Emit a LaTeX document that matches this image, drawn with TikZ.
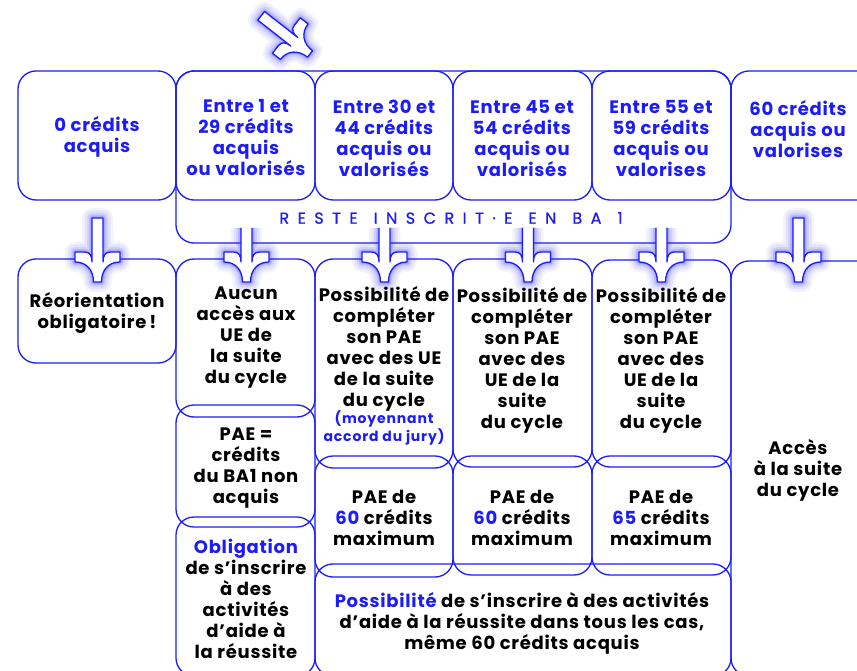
\documentclass[tikz,border=0pt]{standalone}
\usepackage{fontspec}
\setmainfont{Poppins}
\definecolor{bl}{RGB}{28,28,250}
\newcommand\arwopen[1]{(-5.5,-#1) -- (-5.5,-20) .. controls (-5.5,-26) and (-7.5,-30) .. (-13,-30) -- (-22.5,-30) -- (-22.5,-20) .. controls (-11,-20) and (-4,-12) .. (-4,0) -- (4,0) .. controls (4,-12) and (11,-20) .. (22.5,-20) -- (22.5,-30) -- (13,-30) .. controls (7.5,-30) and (5.5,-26) .. (5.5,-20) -- (5.5,-#1)}
\newcommand\arwclosed[1]{\arwopen{#1} -- cycle}
\newcommand\lsp{\hspace{8.5pt}}
\newcommand\wsp{\hspace{16pt}}
\tikzset{
  pics/arrowc/.style={code={
    \foreach \w/\o in {20/0.05,15/0.07,10/0.09,6/0.12,3/0.15}{\draw[bl,line width=\w pt,opacity=\o,line join=round] \arwclosed{#1};}
    \fill[white] \arwclosed{#1};
    \draw[bl,line width=1.3pt,line join=round] \arwclosed{#1};
  }},
  pics/arrowo/.style={code={
    \foreach \w/\o in {20/0.05,15/0.07,10/0.09,6/0.12,3/0.15}{\draw[bl,line width=\w pt,opacity=\o,line join=round] \arwopen{#1};}
    \fill[white] \arwclosed{#1};
    \draw[bl,line width=1.3pt,line join=round] \arwopen{#1};
  }},
}
\begin{document}
\begin{tikzpicture}[x=1pt,y=-1pt,
  box/.style={draw=bl, line width=1.3pt, rounded corners=18pt},
  toptxt/.style={text=bl, font=\bfseries\fontsize{18}{21}\selectfont\addfontfeature{LetterSpace=4}, align=center, inner sep=0pt},
  bodytxt/.style={text=black, font=\bfseries\fontsize{18}{21}\selectfont\addfontfeature{LetterSpace=4}, align=center, inner sep=0pt},
  bluesmall/.style={text=bl, font=\bfseries\fontsize{14}{14}\selectfont\addfontfeature{LetterSpace=6}, align=center, inner sep=0pt},
]
\useasboundingbox (0,0) rectangle (857,671);
\clip (0,0) rectangle (857,671);
\fill[white] (0,0) rectangle (857,671);
% top row
\draw[box] (18,71) rectangle (176,200);
\draw[box] (176,71) rectangle (315,200);
\draw[box] (315,71) rectangle (453,200);
\draw[box] (453,71) rectangle (592,200);
\draw[box] (592,71) rectangle (731,200);
\draw[box] (731,71) rectangle (880,200);
\draw[box] (176,71) rectangle (731,243);
% second row
\draw[box] (18,259) rectangle (176,363);
\draw[box] (176,259) rectangle (315,417);
\draw[box] (176,405) rectangle (315,527);
\draw[box] (176,517) rectangle (315,676);
\draw[box] (315,259) rectangle (453,468);
\draw[box] (315,456) rectangle (453,577);
\draw[box] (453,259) rectangle (592,467);
\draw[box] (453,456) rectangle (592,575);
\draw[box] (592,260) rectangle (731,467);
\draw[box] (592,456) rectangle (731,575);
\draw[box] (315,564) rectangle (731,676);
\draw[box] (731,261) rectangle (880,676);
% texts top
\node[toptxt] (t0) at (97,137) {0 crédits\\acquis};
\node[toptxt] (t1) at (246,138) {Entre 1 et\\29 crédits\\acquis\\ou valorisés};
\node[toptxt] (t2) at (384,138) {Entre 30 et\\44 crédits\\acquis ou\\valorisés};
\node[toptxt] (t3) at (522,138) {Entre 45 et\\54 crédits\\acquis ou\\valorisés};
\node[toptxt] (t4) at (661,138) {Entre 55 et\\59 crédits\\acquis ou\\valorises};
\node[toptxt] (t5) at (798,129) {60 crédits\\acquis ou\\valorises};
\node[text=bl, font=\fontsize{16}{16}\selectfont\addfontfeature{FakeBold=0.8}, inner sep=0pt] (reste) at (451,218) {R\lsp E\lsp S\lsp T\lsp E\wsp I\lsp N\lsp S\lsp C\lsp R\lsp I\lsp T\lsp·\lsp E\wsp E\lsp N\wsp B\lsp A\wsp 1};
% texts second row
\node[bodytxt] (r0) at (97,313) {Réorientation\\obligatoire\,!};
\node[bodytxt] (c1a) at (246,338) {Aucun\\accès aux\\UE de\\la suite\\du cycle};
\node[bodytxt] (c1b) at (246,468) {PAE =\\crédits\\du BA1 non\\acquis};
\node[bodytxt] (c1c) at (246,599) {\textcolor{bl}{Obligation}\\de s’inscrire\\à des\\activités\\d’aide à\\la réussite};
\node[bodytxt] (c2a) at (384,349) {Possibilité de\\compléter\\son PAE\\avec des UE\\de la suite\\du cycle};
\node[bluesmall] (c2n) at (384,428) {(moyennant\\accord du jury)};
\node[bodytxt] (c3a) at (522,360) {Possibilité de\\compléter\\son PAE\\avec des\\UE de la\\suite\\du cycle};
\node[bodytxt] (c4a) at (661,360) {Possibilité de\\compléter\\son PAE\\avec des\\UE de la\\suite\\du cycle};
\node[bodytxt] (c2b) at (384,518) {PAE de\\\textcolor{bl}{60} crédits\\maximum};
\node[bodytxt] (c3b) at (522,518) {PAE de\\\textcolor{bl}{60} crédits\\maximum};
\node[bodytxt] (c4b) at (661,518) {PAE de\\\textcolor{bl}{65} crédits\\maximum};
\node[bodytxt] (c2c) at (522,623) {\textcolor{bl}{Possibilité} de s’inscrire à des activités\\d’aide à la réussite dans tous les cas,\\même 60 crédits acquis};
\node[bodytxt] (c5) at (798,470) {Accès\\à la suite\\du cycle};
% arrows
\pic at (97.5,282) {arrowc=64};
\pic at (798.5,282) {arrowc=64};
\pic at (246.5,282) {arrowo=54};
\pic at (384.5,282) {arrowo=54};
\pic at (528,282) {arrowo=54};
\pic at (661.5,282) {arrowo=54};
\pic[rotate=52] at (310,54) {arrowc=62};
\end{tikzpicture}
\end{document}
